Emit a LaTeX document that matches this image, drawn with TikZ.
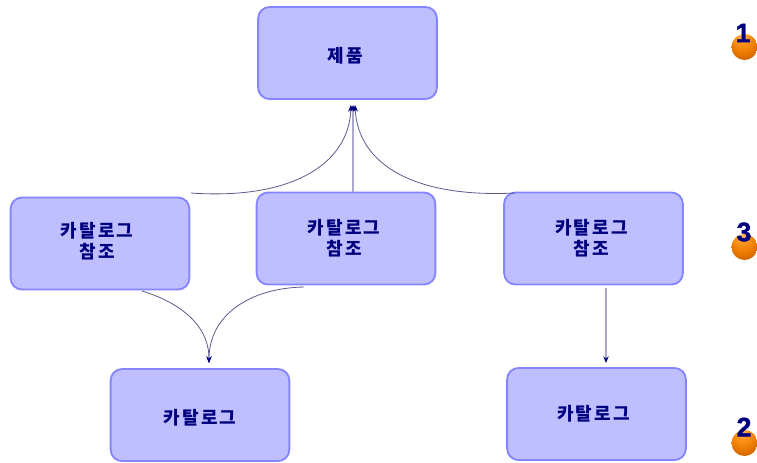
\documentclass[tikz,border=0pt]{standalone}
\usepackage{fontspec}
\setmainfont{Liberation Sans}[BoldFeatures={FakeBold=1.5}]
\newfontfamily\kr{Noto Sans CJK KR}[LetterSpace=12]
\usetikzlibrary{arrows.meta}
\definecolor{boxfill}{HTML}{BFBFFF}
\definecolor{boxline}{HTML}{8585FF}
\definecolor{navy1}{HTML}{00007F}
\definecolor{linec}{HTML}{5A5A8C}
\definecolor{linelt}{HTML}{A8A8D0}
\definecolor{ballA}{HTML}{FFC060}
\definecolor{ballB}{HTML}{FF9820}
\definecolor{ballC}{HTML}{E87800}
\definecolor{ballD}{HTML}{C05800}
\definecolor{ballE}{HTML}{904010}
\definecolor{ballF}{HTML}{A08060}
\pgfdeclareradialshading{orangeball}{\pgfpoint{-6bp}{24bp}}{
  color(0bp)=(ballA);
  color(10bp)=(ballB);
  color(25bp)=(ballC);
  color(38bp)=(ballD);
  color(46bp)=(ballE);
  color(50bp)=(ballF)}
% text inside a box: #1 shift right, #2 shift up (in px), #3 the lines
\newcommand\lbl[3]{\makebox[0pt]{\hspace*{\dimexpr #1pt*3/2\relax}\raisebox{\dimexpr #2pt*3/4\relax}[0pt][0pt]{\begin{tabular}{@{}c@{}}#3\end{tabular}}}}
\tikzset{
  x=0.75pt,y=-0.75pt,
  boxnode/.style={draw=boxline,fill=boxfill,line width=1.4pt,rounded corners=8.5pt,minimum width=134pt,minimum height=69pt,inner sep=0pt,align=center,text=navy1,font=\kr\bfseries\fontsize{13.5}{15}\selectfont},
  link/.style={draw=linec,line width=0.6pt,-{Stealth[length=5pt,width=4pt,color=navy1]}},
  lightlink/.style={draw=linelt,line width=0.8pt,-{Stealth[length=5pt,width=4pt,color=navy1]}},
  ball/.style={circle,minimum size=19.5pt,inner sep=0pt,shading=orangeball},
  num/.style={text=navy1,inner sep=0pt,font=\bfseries\fontsize{20}{20}\selectfont}
}
\begin{document}
\begin{tikzpicture}
\useasboundingbox (0,0) rectangle (757,462);
\node[boxnode] (prod) at (347.5,53) {\lbl{-2}{-10}{제품}};
\node[boxnode] (refa) at (100,243.5) {\lbl{-3}{-5}{카탈로그\\참조}};
\node[boxnode] (refb) at (346,238.5) {\lbl{-2}{-7}{카탈로그\\참조}};
\node[boxnode] (refc) at (593.5,238.5) {\lbl{-2}{-7}{카탈로그\\참조}};
\node[boxnode] (cata) at (200,415) {\lbl{0}{-10}{카탈로그}};
\node[boxnode] (catb) at (596.5,414) {\lbl{-3}{-7}{카탈로그}};
\coordinate (ta) at (351,105);
\coordinate (tb) at (353,105);
\coordinate (tc) at (355,105);
\coordinate (sa) at (191,193);
\coordinate (sb) at (353,192);
\coordinate (sc) at (515,193);
\coordinate (da) at (142,291);
\coordinate (db) at (304,287);
\coordinate (dt) at (209,363);
\coordinate (sd) at (606,288);
\coordinate (te) at (606,363);
\draw[link] (sa) .. controls (290,200) and (349,165) .. (ta);
\draw[lightlink] (sb) -- (tb);
\draw[link] (sc) .. controls (415,198) and (358,165) .. (tc);
\draw[link] (da) .. controls (175,301) and (209,322) .. (dt);
\draw[link] (db) .. controls (250,288) and (209,315) .. (dt);
\draw[lightlink] (sd) -- (te);
\node[ball] (ba) at (744.5,47) {};
\node[ball] (bb) at (744.5,247) {};
\node[ball] (bc) at (744.5,443) {};
\node[num] (na) at (743,33) {1};
\node[num] (nb) at (744,232) {3};
\node[num] (nc) at (744,427) {2};
\end{tikzpicture}
\end{document}
